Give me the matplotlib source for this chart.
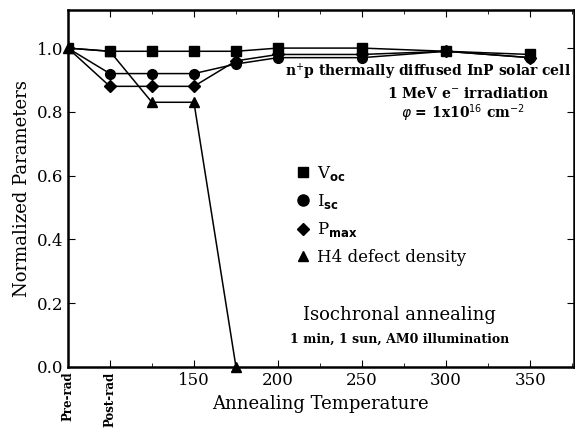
import matplotlib
matplotlib.use("Agg")
import matplotlib.pyplot as plt
from matplotlib.lines import Line2D

# annealing steps (Pre-rad = 75, Post-rad = 100 on the axis)
temps = [75, 100, 125, 150, 175, 200, 250, 300, 350]
voc = [1.0, 0.99, 0.99, 0.99, 0.99, 1.0, 1.0, 0.99, 0.98]
isc = [1.0, 0.92, 0.92, 0.92, 0.95, 0.97, 0.97, 0.99, 0.97]
pmax = [1.0, 0.88, 0.88, 0.88, 0.96, 0.98, 0.98, 0.99, 0.97]
h4_temps = [75, 100, 125, 150, 175]
h4 = [1.0, 0.99, 0.83, 0.83, 0.0]

xticks = [75, 100, 150, 200, 250, 300, 350]
xticklabels = ['Pre-rad', 'Post-rad', '150', '200', '250', '300', '350']

plt.rcParams['font.family'] = 'DejaVu Serif'

fig = plt.figure(figsize=(5.75, 4.28), dpi=100)
ax = fig.add_axes([0.118, 0.143, 0.880, 0.834])

ax.plot(temps, voc, color='black', lw=1.1, marker='s', ms=7, zorder=3)
ax.plot(temps, isc, color='black', lw=1.1, marker='o', ms=7, zorder=3)
ax.plot(temps, pmax, color='black', lw=1.1, marker='D', ms=6, zorder=3)
ax.plot(h4_temps, h4, color='black', lw=1.1, marker='^', ms=7, zorder=3, clip_on=False)

ax.set_xlim(75, 376)
ax.set_ylim(0, 1.12)
ax.set_xticks(xticks)
ax.set_xticks(range(75, 376, 25), minor=True)
ax.set_xticklabels(xticklabels)
for lab in ax.get_xticklabels()[:2]:
    lab.set_rotation(90)
    lab.set_fontsize(8.5)
    lab.set_fontweight('bold')
    lab.set_va('top')
for lab in ax.get_xticklabels()[2:]:
    lab.set_fontsize(12)
ax.set_yticks([0.0, 0.2, 0.4, 0.6, 0.8, 1.0])
ax.set_yticklabels(['0.0', '0.2', '0.4', '0.6', '0.8', '1.0'], fontsize=12)
ax.tick_params(which='both', direction='in', top=True, right=True)
ax.tick_params(which='major', length=5)
ax.tick_params(which='minor', length=3)
for sp in ax.spines.values():
    sp.set_linewidth(1.8)

ax.set_xlabel('Annealing Temperature', fontsize=13)
ax.xaxis.set_label_coords(0.5, -0.08)
ax.set_ylabel('Normalized Parameters', fontsize=13, labelpad=4)

ax.text(0.995, 0.825, 'n$^{+}$p thermally diffused InP solar cell', transform=ax.transAxes,
        ha='right', va='center', fontsize=10, fontweight='bold')
ax.text(0.79, 0.765, '1 MeV e$^{-}$ irradiation', transform=ax.transAxes,
        ha='center', va='center', fontsize=10, fontweight='bold')
ax.text(0.78, 0.71, r'$\varphi$ = 1x10$^{16}$ cm$^{-2}$', transform=ax.transAxes,
        ha='center', va='center', fontsize=10, fontweight='bold')
ax.text(0.655, 0.145, 'Isochronal annealing', transform=ax.transAxes,
        ha='center', va='center', fontsize=13)
ax.text(0.655, 0.078, '1 min, 1 sun, AM0 illumination', transform=ax.transAxes,
        ha='center', va='center', fontsize=9, fontweight='bold')

handles = [
    Line2D([], [], color='black', marker='s', ms=7, ls='none'),
    Line2D([], [], color='black', marker='o', ms=8, ls='none'),
    Line2D([], [], color='black', marker='D', ms=6, ls='none'),
    Line2D([], [], color='black', marker='^', ms=7, ls='none'),
]
labels = [r'V$_{\mathbf{oc}}$', r'I$_{\mathbf{sc}}$', r'P$_{\mathbf{max}}$', 'H4 defect density']
ax.legend(handles, labels, loc='upper left', bbox_to_anchor=(0.41, 0.61), frameon=False,
          fontsize=12, handletextpad=0.1, labelspacing=0.55, handlelength=1.5)

fig.savefig('out.png', dpi=100)
